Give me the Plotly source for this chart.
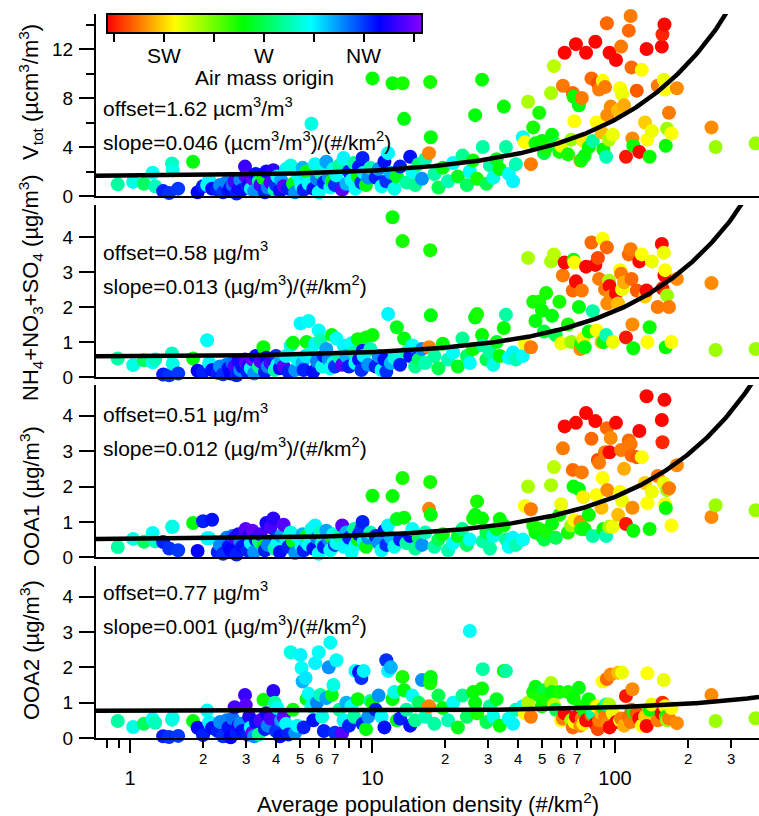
import numpy as np
import plotly.graph_objects as go

# ---------------- data ----------------
# x: average population density (#/km2); origin: air-mass origin (wind direction, deg)
# group A: density < 2.2
xA = [0.72, 0.89, 1.03, 1.14, 1.24, 1.27, 1.37, 1.45, 1.49, 1.50, 1.58, 1.82, 1.90, 2.00, 2.08, 2.12, 2.18]
cA = [258, 280, 288, 272, 290, 283, 318, 316, 284, 288, 315, 262, 322, 318, 290, 292, 320]
v_A = [2.85, 0.95, 1.15, 1.0, 1.9, 0.8, 0.4, 0.25, 2.65, 2.1, 0.6, 2.8, 0.3, 0.8, 0.9, 1.3, 0.6]
i_A = [0.59, 0.53, 0.34, 0.48, 0.42, 0.50, 0.07, 0.05, 0.67, 0.38, 0.10, 0.53, 0.18, 0.15, 1.05, 0.40, 0.20]
o1_A = [0.94, 0.29, 0.52, 0.44, 0.69, 0.45, 0.43, 0.25, 0.86, 0.86, 0.20, 0.97, 0.18, 1.02, 0.54, 0.54, 1.06]
o2_A = [0.48, 0.48, 0.31, 0.40, 0.54, 0.43, 0.05, 0.03, 0.52, 0.57, 0.06, 0.48, 0.29, 0.08, 0.78, 0.45, 0.28]

# group B: 2.2 - 5
xB = [2.30, 2.35, 2.42, 2.50, 2.55, 2.60, 2.65, 2.70, 2.75, 2.80, 2.85, 2.90, 2.98, 3.00, 3.05, 3.10, 3.15, 3.20, 3.25, 3.30,
      3.40, 3.45, 3.55, 3.60, 3.65, 3.70, 3.80, 3.90, 3.95, 4.00, 4.05, 4.15, 4.20, 4.30, 4.40, 4.50, 4.60, 4.70, 4.80, 4.90]
cB = [318, 305, 316, 306, 320, 322, 308, 332, 318, 326, 305, 320, 330, 334, 318, 326, 292, 336, 304, 320,
      278, 332, 260, 318, 324, 306, 332, 328, 280, 316, 290, 320, 302, 334, 292, 318, 288, 262, 304, 290]
v_B = [0.5, 0.9, 0.3, 1.1, 0.4, 0.7, 0.9, 1.2, 0.2, 0.6, 1.3, 0.5, 2.4, 1.6, 0.8, 1.0, 0.6, 1.4, 0.4, 1.8,
       1.2, 0.9, 1.45, 0.3, 2.0, 0.7, 1.1, 2.1, 0.5, 0.9, 1.6, 0.4, 1.3, 0.8, 2.2, 0.6, 2.5, 1.0, 0.3, 1.8]
i_B = [0.12, 0.30, 0.08, 0.35, 0.25, 0.10, 0.40, 0.30, 0.05, 0.45, 0.20, 0.30, 0.50, 0.40, 0.15, 0.35, 0.25, 0.50, 0.10, 0.60,
       0.30, 0.45, 0.85, 0.15, 0.55, 0.30, 0.40, 0.50, 0.20, 0.60, 0.35, 0.25, 0.50, 0.30, 0.60, 0.15, 0.90, 0.98, 0.20, 0.50]
o1_B = [0.15, 0.35, 0.10, 0.55, 0.30, 0.20, 0.60, 0.55, 0.08, 0.65, 0.45, 0.30, 0.70, 0.80, 0.20, 0.60, 0.40, 0.75, 0.15, 0.50,
        0.45, 0.65, 0.32, 0.20, 0.97, 0.35, 0.85, 1.10, 0.25, 0.55, 0.40, 0.15, 0.60, 0.92, 0.50, 0.30, 0.70, 0.45, 0.12, 0.60]
o2_B = [0.20, 0.45, 0.05, 0.50, 0.30, 0.02, 0.55, 0.87, 0.15, 0.35, 0.40, 0.20, 1.22, 0.93, 0.10, 0.60, 0.30, 0.15, 0.05, 0.45,
        0.10, 0.50, 1.08, 0.25, 0.70, 0.35, 0.55, 1.33, 1.00, 0.20, 0.85, 0.05, 0.50, 0.60, 0.40, 0.10, 2.43, 0.80, 0.15, 0.35]

# group C: 5 - 10
xC = [5.05, 5.10, 5.15, 5.20, 5.30, 5.35, 5.45, 5.60, 5.70, 5.80, 5.90, 6.00, 6.10, 6.20, 6.30, 6.45, 6.60, 6.70, 6.80,
      6.90, 7.00, 7.10, 7.30, 7.50, 7.60, 7.80, 8.00, 8.20, 8.40, 8.50, 8.70, 8.80, 9.00, 9.10, 9.20, 9.40, 9.60, 9.80]
cC = [292, 290, 300, 318, 294, 262, 290, 288, 320, 292, 306, 290, 282, 288, 318, 302, 304, 290, 262,
      288, 316, 290, 280, 334, 292, 300, 318, 290, 280, 290, 260, 320, 316, 318, 292, 262, 304, 282]
v_C = [1.2, 0.8, 2.3, 0.5, 1.7, 2.0, 1.0, 5.9, 0.6, 2.6, 1.4, 0.3, 1.9, 2.4, 1.1, 2.8, 1.5, 0.7, 1.2,
       2.2, 0.9, 1.7, 2.5, 0.5, 3.1, 1.0, 2.0, 1.3, 2.7, 0.6, 1.6, 2.4, 1.1, 3.1, 1.9, 0.9, 1.5, 2.3]
i_C = [1.53, 0.50, 0.40, 0.20, 0.60, 1.00, 1.60, 0.70, 0.15, 0.95, 0.45, 1.33, 1.05, 0.30, 0.60, 0.80, 0.50, 0.25, 1.20,
       0.40, 0.30, 1.10, 0.55, 0.35, 0.90, 0.60, 0.30, 0.96, 0.70, 0.40, 1.08, 0.50, 0.20, 0.75, 0.60, 1.13, 0.35, 0.80]
o1_C = [0.50, 0.30, 0.65, 0.20, 0.45, 0.60, 0.35, 0.80, 0.25, 0.90, 0.55, 0.10, 0.70, 0.40, 0.30, 0.75, 0.50, 0.20, 0.55,
        0.65, 0.35, 0.40, 0.60, 0.90, 0.30, 0.70, 0.55, 0.15, 0.80, 0.35, 0.50, 0.65, 0.80, 1.00, 0.45, 0.30, 0.55, 0.70]
o2_C = [2.35, 1.98, 1.60, 0.30, 1.70, 1.10, 1.25, 0.90, 0.50, 2.12, 1.00, 2.43, 1.22, 0.60, 0.20, 1.13, 2.00, 2.70, 1.22,
        1.50, 0.15, 2.20, 0.80, 0.14, 0.50, 1.00, 0.35, 0.90, 0.60, 1.90, 1.10, 1.87, 1.70, 0.40, 1.90, 0.25, 0.60, 1.05]

# group D: 10 - 40
xD = [10.0, 10.3, 10.6, 10.9, 11.2, 11.4, 11.6, 11.9, 12.1, 12.3, 12.6, 13.0, 13.3, 13.5, 13.8, 14.3, 14.6, 15.0, 15.5, 16.0,
      16.5, 17.1, 17.3, 17.4, 18.0, 18.7, 19.5, 20.5, 21.5, 22.5, 23.5, 24.5, 25.2, 26.0, 26.5, 27.0, 28.3, 28.5, 29.5, 30.5,
      31.5, 32.5, 33.5, 34.8, 35.5, 36.5, 38.0, 39.0]
cD = [260, 318, 304, 290, 320, 316, 292, 300, 260, 288, 264, 318, 258, 262, 280, 320, 290, 278, 272, 304,
      282, 215, 258, 262, 280, 270, 262, 282, 290, 264, 278, 272, 290, 260, 262, 258, 260, 280, 270, 280,
      288, 264, 260, 260, 280, 290, 292, 282]
v_D = [9.6, 1.5, 2.2, 0.8, 2.8, 1.2, 3.5, 1.9, 9.2, 0.6, 1.6, 2.4, 9.2, 6.3, 1.1, 3.2, 2.0, 0.9, 2.6, 1.4,
       3.0, 3.5, 9.3, 4.8, 1.8, 0.7, 2.3, 1.2, 2.7, 1.6, 3.3, 0.9, 2.0, 2.9, 6.6, 1.4, 9.5, 4.0, 1.0, 2.5,
       1.5, 3.0, 2.2, 7.3, 4.0, 1.8, 1.2, 2.6]
i_D = [1.2, 0.3, 0.6, 0.2, 0.5, 0.15, 1.8, 0.4, 4.56, 0.55, 1.42, 0.35, 3.88, 1.1, 0.7, 0.6, 0.9, 0.3, 0.5, 0.8,
       0.4, 0.85, 3.62, 1.76, 0.6, 0.25, 0.95, 0.5, 0.7, 0.3, 1.1, 0.6, 0.4, 0.8, 1.7, 1.8, 1.2, 0.9, 0.5, 0.7,
       0.35, 1.0, 0.6, 1.4, 1.78, 0.55, 0.7, 0.5]
o1_D = [1.74, 0.6, 0.4, 0.2, 0.75, 0.35, 0.9, 0.55, 1.73, 0.3, 1.08, 0.5, 2.24, 1.12, 0.4, 0.6, 0.8, 0.25, 0.55, 0.35,
        0.7, 1.37, 2.13, 1.2, 0.3, 0.5, 0.65, 0.2, 0.4, 0.6, 0.8, 0.35, 0.5, 1.1, 1.2, 1.58, 1.1, 0.45, 0.7, 0.25,
        0.6, 0.8, 1.08, 0.9, 0.5, 0.3, 0.55, 0.35]
o2_D = [1.0, 0.8, 1.2, 0.6, 0.3, 2.2, 1.9, 2.0, 1.1, 1.3, 0.5, 0.55, 1.73, 1.35, 0.8, 0.35, 1.2, 0.5, 1.0, 1.64,
        0.6, 0.9, 1.55, 1.73, 0.4, 1.2, 0.85, 0.5, 1.0, 0.3, 1.2, 0.6, 3.03, 1.3, 1.0, 0.7, 1.4, 1.95, 0.45, 0.9,
        0.6, 1.1, 0.35, 1.9, 1.9, 0.55, 0.4, 0.8]

# group E: > 40
xE = [41.7, 42.5, 43.8, 45.0, 46.0, 47.0, 48.7, 50.0, 51.0, 52.0, 54.5, 55.0, 56.0, 57.0, 59.0, 60.0, 61.0, 62.0, 64.0, 66.0,
      67.0, 67.5, 68.0, 69.0, 71.0, 72.0, 72.5, 73.0, 74.0, 75.0, 76.0, 78.0, 80.0, 81.0, 83.0, 84.0, 85.0, 86.0, 88.0, 89.0,
      89.5, 91.0, 92.0, 92.6, 93.0, 94.5, 95.0, 96.0, 98.0, 101.0, 103.0, 105.0, 106.0, 107.0, 109.0, 111.0, 114.0, 116.0,
      117.0, 118.0, 119.0, 123.0, 126.0, 129.0, 133.0, 135.0, 136.0, 139.0, 142.0, 150.0, 156.0, 157.0, 159.0, 160.0,
      161.0, 162.0, 164.0, 167.0, 171.0, 180.0, 250.0, 260.0, 380.0]
cE = [290, 230, 240, 214, 258, 262, 258, 260, 268, 258, 240, 262, 238, 270, 258, 232, 214, 200, 258, 242,
      212, 260, 230, 200, 262, 216, 258, 214, 228, 262, 200, 260, 212, 280, 200, 230, 208, 214, 222, 230,
      260, 214, 282, 212, 216, 240, 200, 216, 232, 200, 222, 230, 214, 232, 220, 202, 212, 214,
      212, 216, 260, 210, 200, 230, 224, 200, 230, 260, 232, 214, 200, 204, 232, 200,
      230, 260, 242, 214, 230, 216, 216, 242, 242]
v_E = [4.8, 4.4, 7.7, 2.6, 5.6, 4.3, 6.8, 4.5, 3.5, 3.9, 8.4, 5.0, 10.6, 4.2, 3.6, 4.1, 9.0, 11.7, 3.4, 4.6,
       8.4, 8.1, 6.1, 12.4, 7.4, 2.9, 2.9, 8.0, 4.5, 3.3, 11.7, 4.0, 9.6, 4.5, 12.6, 6.0, 9.2, 8.7, 5.2, 9.4,
       3.8, 8.9, 3.2, 14.1, 6.6, 4.6, 11.7, 7.3, 5.0, 11.1, 7.0, 8.8, 12.2, 8.3, 7.4, 3.2, 13.5, 14.7,
       10.5, 4.7, 4.1, 8.6, 3.6, 10.3, 6.0, 12.0, 4.6, 3.2, 5.3, 9.0, 12.2, 13.2, 9.5, 14.0,
       8.7, 4.1, 5.5, 6.8, 5.1, 8.8, 5.6, 4.0, 4.3]
i_E = [0.6, 0.96, 3.4, 0.85, 2.15, 1.6, 2.15, 1.9, 1.3, 2.4, 3.3, 1.75, 3.5, 1.2, 2.15, 0.96, 2.9, 3.27, 1.5, 1.0,
       2.47, 3.35, 3.27, 2.73, 2.0, 0.8, 0.95, 2.47, 1.1, 0.85, 3.15, 1.3, 3.84, 1.88, 3.2, 1.33, 3.4, 2.8, 1.0, 3.95,
       1.0, 2.5, 1.2, 3.7, 2.1, 2.75, 2.6, 2.3, 1.0, 2.4, 2.1, 3.05, 2.95, 2.5, 2.7, 1.13, 3.5, 3.65,
       2.8, 1.5, 0.82, 2.47, 3.3, 3.5, 2.3, 2.47, 1.0, 1.42, 3.3, 2.0, 3.8, 2.53, 3.55, 2.9,
       3.05, 0.85, 2.33, 2.0, 1.0, 2.8, 2.68, 0.77, 0.8]
o1_E = [0.5, 1.45, 2.0, 1.36, 0.9, 0.7, 0.8, 0.6, 0.5, 0.75, 2.04, 0.95, 2.55, 0.55, 1.2, 1.5, 3.08, 3.7, 0.7, 0.9,
        2.47, 2.0, 1.05, 3.8, 1.93, 1.0, 0.8, 2.4, 1.7, 0.8, 4.08, 1.2, 3.35, 0.6, 3.85, 1.76, 2.75, 2.67, 1.4, 2.24,
        0.8, 2.97, 0.6, 3.65, 1.9, 0.86, 2.97, 3.37, 0.86, 3.8, 1.2, 1.85, 3.03, 1.6, 2.5, 0.94, 3.3, 3.2,
        2.88, 1.4, 0.75, 2.83, 3.57, 2.83, 2.1, 4.55, 1.53, 0.8, 1.85, 2.3, 3.88, 3.25, 2.09, 4.45,
        1.5, 1.39, 1.9, 1.95, 0.9, 2.6, 1.14, 1.47, 1.33]
o2_E = [0.9, 0.7, 1.0, 0.6, 1.3, 1.45, 1.2, 0.9, 1.35, 1.1, 1.56, 1.3, 0.95, 0.8, 1.3, 0.5, 0.55, 0.7, 1.3, 0.5,
        0.3, 1.13, 0.45, 0.6, 1.42, 0.35, 0.9, 0.55, 0.4, 0.75, 0.5, 1.1, 0.65, 0.7, 0.4, 0.9, 0.25, 0.5, 0.7, 1.6,
        0.85, 0.6, 0.95, 1.67, 0.4, 0.95, 0.3, 1.8, 0.7, 0.45, 1.85, 0.5, 0.55, 1.85, 0.35, 1.19, 0.6, 0.45,
        0.8, 1.38, 0.75, 0.7, 0.55, 0.35, 0.6, 0.34, 1.83, 0.8, 0.95, 0.5, 0.7, 1.0, 1.64, 0.85,
        0.9, 0.6, 0.5, 0.55, 0.85, 0.42, 1.22, 0.48, 0.56]

density = xA + xB + xC + xD + xE
origin = cA + cB + cC + cD + cE
vtot = v_A + v_B + v_C + v_D + v_E
inorg = i_A + i_B + i_C + i_D + i_E
ooa1 = o1_A + o1_B + o1_C + o1_D + o1_E
ooa2 = o2_A + o2_B + o2_C + o2_D + o2_E
for arr in (origin, vtot, inorg, ooa1, ooa2):
    assert len(arr) == len(density), (len(arr), len(density))

# linear fits y = offset + slope * x
offsets = [1.62, 0.58, 0.51, 0.77]
slopes = [0.046, 0.013, 0.012, 0.001]
offset_txt = ["offset=1.62 µcm<sup>3</sup>/m<sup>3</sup>", "offset=0.58 µg/m<sup>3</sup>",
              "offset=0.51 µg/m<sup>3</sup>", "offset=0.77 µg/m<sup>3</sup>"]
slope_txt = ["slope=0.046 (µcm<sup>3</sup>/m<sup>3</sup>)/(#/km<sup>2</sup>)",
             "slope=0.013 (µg/m<sup>3</sup>)/(#/km<sup>2</sup>)",
             "slope=0.012 (µg/m<sup>3</sup>)/(#/km<sup>2</sup>)",
             "slope=0.001 (µg/m<sup>3</sup>)/(#/km<sup>2</sup>)"]
y_titles = ["V<sub>tot</sub> (µcm<sup>3</sup>/m<sup>3</sup>)",
            "NH<sub>4</sub>+NO<sub>3</sub>+SO<sub>4</sub> (µg/m<sup>3</sup>)",
            "OOA1 (µg/m<sup>3</sup>)", "OOA2 (µg/m<sup>3</sup>)"]
x_title = "Average population density (#/km<sup>2</sup>)"
x_major = [1, 10, 100]
x_minor = [0.8, 0.9, 2, 3, 4, 5, 6, 7, 8, 9, 20, 30, 40, 50, 60, 70, 80, 90, 200, 300]
x_minor_labeled = [2, 3, 4, 5, 6, 7, 20, 30, 40, 50, 60, 70, 200, 300]
cbar_ticks = [202.5, 225, 247.5, 270, 292.5, 315, 337.5]
cbar_labels = {225: "SW", 270: "W", 315: "NW"}
cbar_title = "Air mass origin"

# ---------------- layout helpers ----------------
FONT = "Liberation Sans, Arial, Helvetica, sans-serif"
W, H = 759, 816
ML, MR, MT, MB = 96, 0, 14, 78
PW, PH = W - ML - MR, H - MT - MB


def ypaper(py):
    return (H - MB - py) / PH


def xpaper(px):
    return (px - ML) / PW


panel_px = [(14, 196), (205, 377), (385, 557.3), (566, 738)]
y_ranges = [[0, 14.86], [0, 4.91], [0, 4.87], [0, 4.87]]
y_major = [[0, 4, 8, 12], [0, 1, 2, 3, 4], [0, 1, 2, 3, 4], [0, 1, 2, 3, 4]]
y_minor = [[2, 6, 10, 14], [], [], []]
series = [vtot, inorg, ooa1, ooa2]
stat_py = [(107, 141), (251, 285), (413, 447), (591, 625)]
title_px = [92, 288, 496, 650]

xr = [np.log10(0.724), np.log10(392.6)]
cmin, cmax = 199.35, 341.1
colorscale = [[0.0, "rgb(255,0,0)"], [0.216, "rgb(255,255,0)"], [0.432, "rgb(0,255,0)"],
              [0.647, "rgb(0,255,255)"], [0.863, "rgb(0,0,255)"], [1.0, "rgb(136,0,255)"]]

fig = go.Figure()
xs_fit = np.logspace(xr[0], xr[1], 400)
layout = {}
annotations = []
for k in range(4):
    sfx = "" if k == 0 else str(k + 1)
    fig.add_trace(go.Scatter(
        x=density, y=series[k], mode="markers", xaxis="x" + sfx, yaxis="y" + sfx,
        marker=dict(size=14, color=origin, coloraxis="coloraxis", line=dict(width=0)),
        cliponaxis=False, hoverinfo="skip", showlegend=False))
    fig.add_trace(go.Scatter(
        x=xs_fit, y=offsets[k] + slopes[k] * xs_fit, mode="lines", xaxis="x" + sfx, yaxis="y" + sfx,
        line=dict(color="black", width=4.5), hoverinfo="skip", showlegend=False))
    top, bot = panel_px[k]
    xa = dict(type="log", range=xr, domain=[0, 1], anchor="y" + sfx, showline=True, linewidth=2,
              linecolor="black", showgrid=False, zeroline=False)
    if k < 3:
        xa.update(ticks="", showticklabels=False, matches="x4")
    else:
        xa.update(ticks="outside", ticklen=13, tickwidth=2, tickcolor="black",
                  tickmode="array", tickvals=x_major, ticktext=[str(v) for v in x_major],
                  tickfont=dict(size=20, family=FONT, color="black"), ticklabelstandoff=8,
                  minor=dict(tickmode="array", tickvals=x_minor, ticks="outside", ticklen=8,
                             tickwidth=2, tickcolor="black", showgrid=False))
    ya = dict(domain=[ypaper(bot), ypaper(top)], anchor="x" + sfx, range=y_ranges[k],
              showline=True, linewidth=2, linecolor="black", showgrid=False, zeroline=False,
              ticks="outside", ticklen=15, tickwidth=2, tickcolor="black",
              tickmode="array", tickvals=y_major[k], ticktext=[str(v) for v in y_major[k]],
              tickfont=dict(size=19, family=FONT, color="black"), ticklabelstandoff=2)
    if y_minor[k]:
        ya["minor"] = dict(tickmode="array", tickvals=y_minor[k], ticks="outside", ticklen=8,
                           tickwidth=2, tickcolor="black", showgrid=False)
    layout["xaxis" + sfx] = xa
    layout["yaxis" + sfx] = ya
    # y-axis title
    annotations.append(dict(text=y_titles[k], xref="paper", yref="paper", x=xpaper(30),
                            y=ypaper(title_px[k]), textangle=-90, showarrow=False,
                            xanchor="center", yanchor="middle",
                            font=dict(size=22, family=FONT, color="black")))
    # fit statistics
    for txt, py in zip((offset_txt[k], slope_txt[k]), stat_py[k]):
        annotations.append(dict(text=txt, xref="paper", yref="paper", x=xpaper(101), y=ypaper(py),
                                showarrow=False, xanchor="left", yanchor="middle",
                                font=dict(size=21, family=FONT, color="black")))

# minor tick labels on the log axis (leading digit only)
for v in x_minor_labeled:
    lead = int(round(v / 10 ** np.floor(np.log10(v))))
    annotations.append(dict(text=str(lead), xref="x4", yref="paper", x=np.log10(v), y=ypaper(759),
                            showarrow=False, xanchor="center", yanchor="middle",
                            font=dict(size=15, family=FONT, color="black")))
# x title
annotations.append(dict(text=x_title, xref="paper", yref="paper", x=0.5, y=ypaper(803),
                        showarrow=False, xanchor="center", yanchor="middle",
                        font=dict(size=22, family=FONT, color="black")))

# colorbar geometry (pixels)
cb_left, cb_right, cb_top, cb_thick = 107, 422, 14, 19
cb_len = cb_right - cb_left
for val, lab in cbar_labels.items():
    px = cb_left + (val - cmin) / (cmax - cmin) * cb_len
    annotations.append(dict(text=lab, xref="paper", yref="paper", x=xpaper(px), y=ypaper(55.5),
                            showarrow=False, xanchor="center", yanchor="middle",
                            font=dict(size=21, family=FONT, color="black")))
annotations.append(dict(text=cbar_title, xref="paper", yref="paper", x=xpaper((cb_left + cb_right) / 2),
                        y=ypaper(77), showarrow=False, xanchor="center", yanchor="middle",
                        font=dict(size=21, family=FONT, color="black")))

fig.update_layout(
    template="none",
    width=W, height=H,
    margin=dict(l=ML, r=MR, t=MT, b=MB, pad=0, autoexpand=False),
    paper_bgcolor="white", plot_bgcolor="rgba(0,0,0,0)",
    font=dict(family=FONT, color="black", size=18),
    showlegend=False,
    coloraxis=dict(
        colorscale=colorscale, cmin=cmin, cmax=cmax,
        colorbar=dict(orientation="h", x=xpaper((cb_left + cb_right) / 2), xanchor="center",
                      y=ypaper(cb_top), yanchor="top", len=cb_len, lenmode="pixels",
                      thickness=cb_thick, thicknessmode="pixels", xpad=0, ypad=0,
                      outlinewidth=2, outlinecolor="black",
                      tickmode="array", tickvals=cbar_ticks, ticks="outside", ticklen=8,
                      tickwidth=2, tickcolor="black", showticklabels=False)),
    annotations=annotations,
    **layout,
)

fig.write_html("out.html", config={"displayModeBar": False},
               post_script="document.body.style.margin='0';document.body.style.overflow='hidden';")
